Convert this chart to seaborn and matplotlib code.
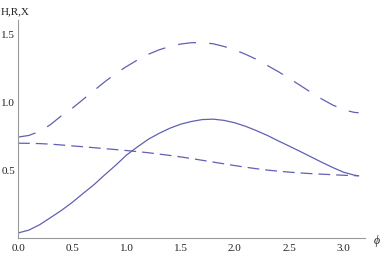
import numpy as np
import pandas as pd
import matplotlib
matplotlib.use("Agg")
import matplotlib.pyplot as plt
import seaborn as sns
from matplotlib.ticker import MultipleLocator

# values
phi = [0.0, 0.1, 0.2, 0.3, 0.4, 0.5, 0.6, 0.7, 0.8, 0.9, 1.0, 1.1, 1.2, 1.3, 1.4, 1.5,
       1.6, 1.7, 1.8, 1.9, 2.0, 2.1, 2.2, 2.3, 2.4, 2.5, 2.6, 2.7, 2.8, 2.9, 3.0, 3.1, 3.1416]
H = [0.743, 0.755, 0.785, 0.835, 0.900, 0.955, 1.020, 1.085, 1.150, 1.210, 1.262, 1.310,
     1.352, 1.385, 1.410, 1.428, 1.438, 1.438, 1.430, 1.410, 1.385, 1.352, 1.315, 1.270,
     1.225, 1.175, 1.125, 1.073, 1.024, 0.980, 0.945, 0.925, 0.922]
R = [0.037, 0.058, 0.098, 0.150, 0.203, 0.262, 0.328, 0.392, 0.465, 0.535, 0.610, 0.670,
     0.726, 0.770, 0.808, 0.838, 0.858, 0.872, 0.875, 0.866, 0.848, 0.822, 0.790, 0.755,
     0.715, 0.677, 0.638, 0.598, 0.558, 0.520, 0.485, 0.463, 0.458]
X = [0.698, 0.697, 0.695, 0.691, 0.685, 0.678, 0.672, 0.665, 0.658, 0.651, 0.644, 0.636,
     0.628, 0.618, 0.608, 0.597, 0.585, 0.572, 0.559, 0.546, 0.533, 0.521, 0.510, 0.500,
     0.492, 0.485, 0.479, 0.474, 0.470, 0.466, 0.462, 0.459, 0.458]

x_ticks = [0.0, 0.5, 1.0, 1.5, 2.0, 2.5, 3.0]
y_ticks = [0.5, 1.0, 1.5]

df = pd.concat([
    pd.DataFrame({"phi": phi, "value": H, "series": "H"}),
    pd.DataFrame({"phi": phi, "value": R, "series": "R"}),
    pd.DataFrame({"phi": phi, "value": X, "series": "X"}),
])

sns.set_style("white")
plt.rcParams["font.family"] = ["Liberation Serif", "DejaVu Serif"]
plt.rcParams["lines.scale_dashes"] = False

W, Hpx = 382, 256
fig = plt.figure(figsize=(W / 100, Hpx / 100), dpi=100)
ax = fig.add_axes([18 / W, 18 / Hpx, (365 - 18) / W, (238 - 20) / Hpx])

line_color = "#6060b4"
sns.lineplot(data=df, x="phi", y="value", style="series",
             dashes={"H": (13, 9.5), "R": "", "X": (8.5, 4.3)},
             color=line_color, linewidth=0.9, legend=False, ax=ax)

ax.set_xlim(0, 3.2)
ax.set_ylim(0, 1.605)
ax.set_xlabel("")
ax.set_ylabel("")

# Mathematica-like axes
for s in ["top", "right"]:
    ax.spines[s].set_visible(False)
for s in ["left", "bottom"]:
    ax.spines[s].set_color("#999999")
    ax.spines[s].set_linewidth(0.8)

ax.set_xticks(x_ticks)
ax.set_xticklabels([f"{v:.1f}" for v in x_ticks])
ax.set_yticks(y_ticks)
ax.set_yticklabels([f"{v:.1f}" for v in y_ticks])
ax.xaxis.set_minor_locator(MultipleLocator(0.1))
ax.yaxis.set_minor_locator(MultipleLocator(0.1))
ax.tick_params(which="both", direction="in", color="#999999", width=0.6,
               labelsize=8, labelcolor="#222222")
ax.tick_params(which="major", length=3.3)
ax.tick_params(which="minor", length=2)
ax.tick_params(axis="x", pad=4.5)
ax.tick_params(axis="y", pad=2)

fig.text(1 / W, 1 - 12 / Hpx, "H,R,X", fontsize=8, color="#222222", va="center", ha="left")
fig.text(374 / W, 1 - 241 / Hpx, "\u03d5", fontsize=8.5, style="italic",
         color="#222222", va="center", ha="left")

fig.savefig("out.png", dpi=100)
